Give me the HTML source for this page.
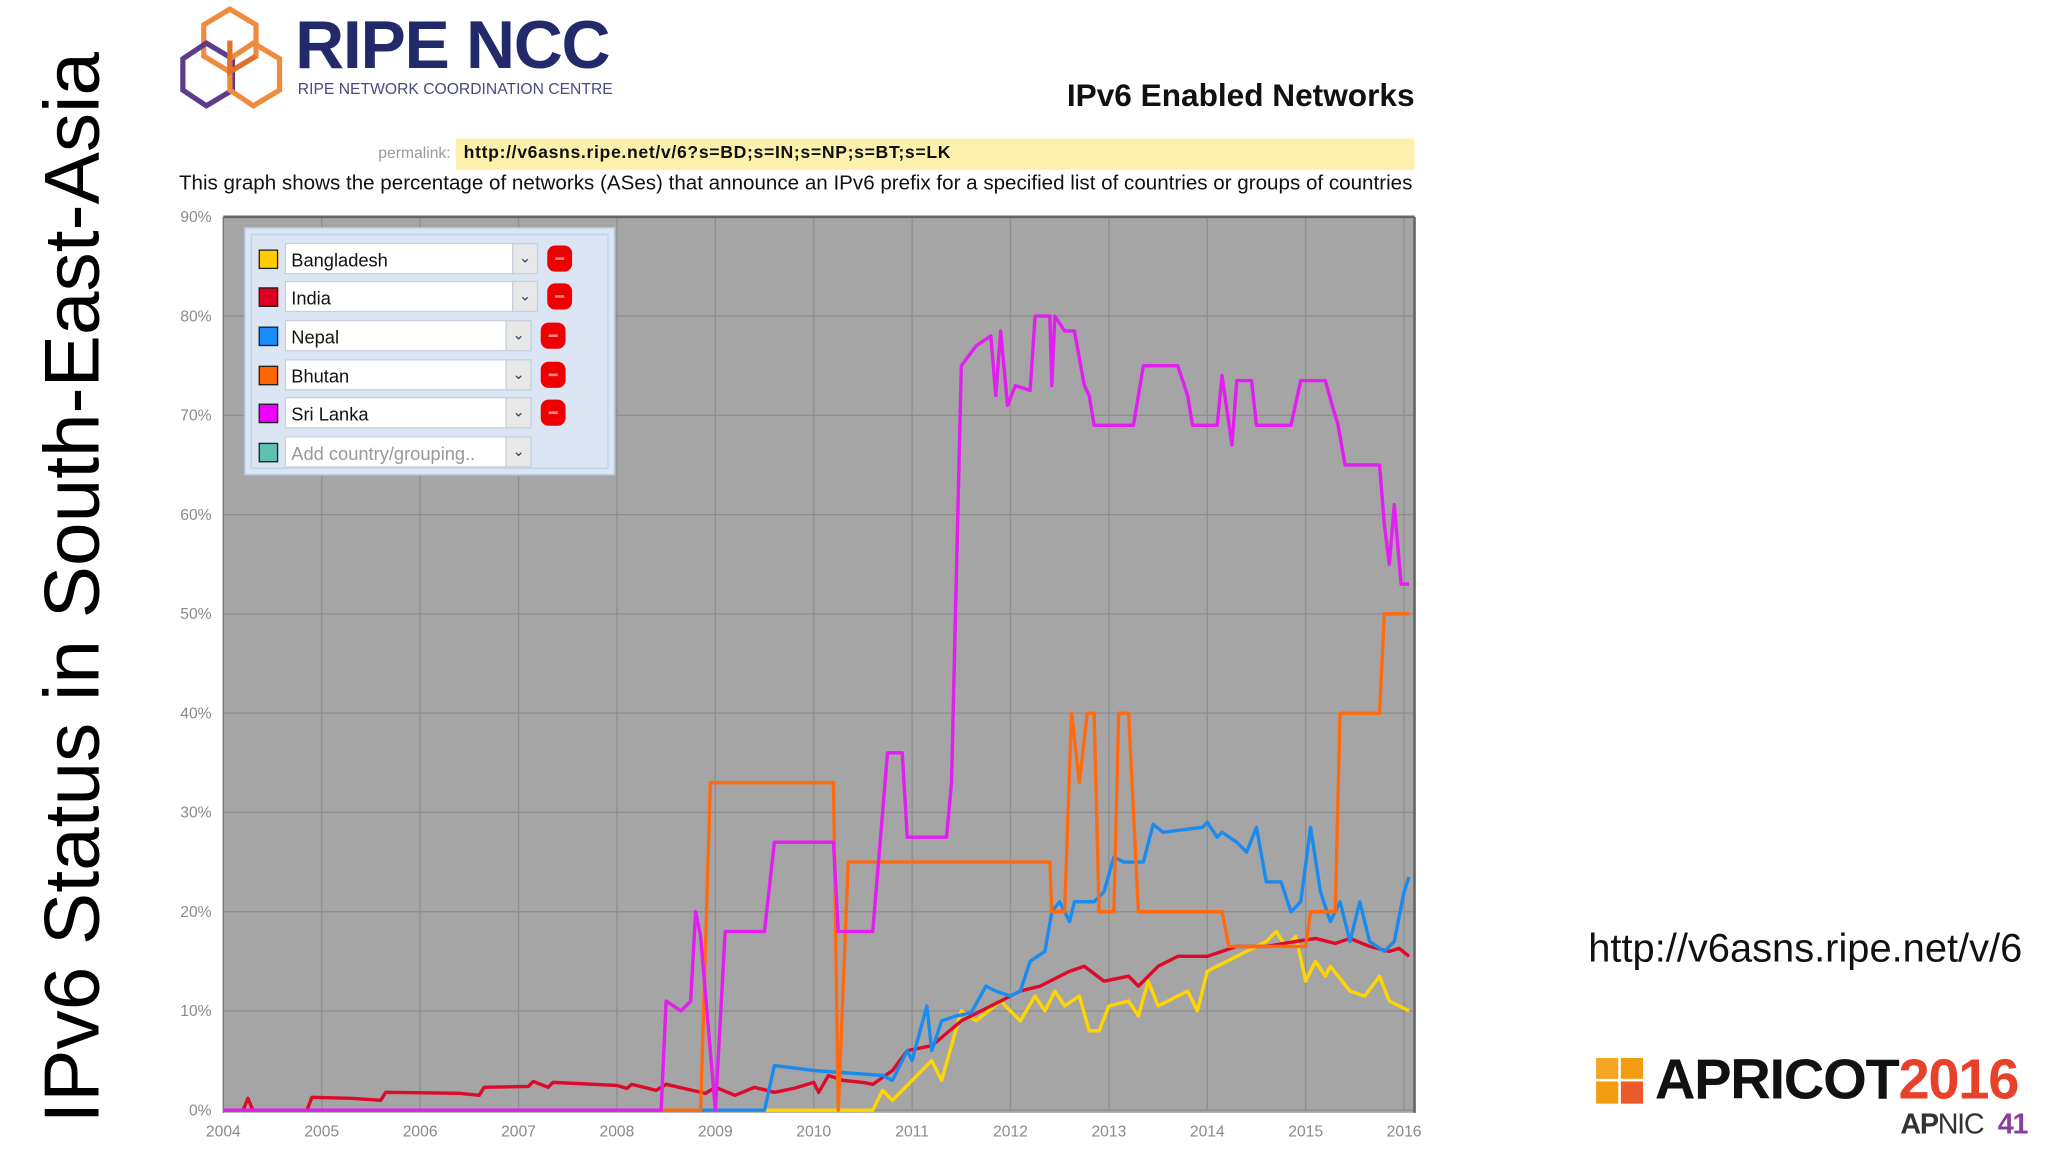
<!DOCTYPE html>
<html><head><meta charset="utf-8">
<style>
html,body{margin:0;padding:0;background:#fff;}
body{width:2048px;height:1152px;overflow:hidden;position:relative;font-family:"Liberation Sans",sans-serif;}
#stage{position:absolute;left:0;top:0;width:1568px;height:882px;transform:scale(1.30612);transform-origin:0 0;}
.abs{position:absolute;white-space:nowrap;}
.row{position:absolute;left:8px;height:26px;}
.sw{position:absolute;left:2px;top:5px;width:13px;height:13px;border:1px solid #222;}
.sel{position:absolute;left:22px;top:0;height:24px;background:#fff;border:1px solid #c8d0dc;font-size:14px;line-height:24px;padding-left:4px;box-sizing:border-box;color:#111;}
.dd{position:absolute;top:0;width:20px;height:24px;background:#e8e8e8;border:1px solid #c8d0dc;box-sizing:border-box;color:#345;font-size:11px;text-align:center;line-height:22px;}
.rm{position:absolute;top:2px;width:19px;height:20px;background:#e00;border-radius:6px;}
.rm:after{content:"";position:absolute;left:6px;top:9px;width:7px;height:2px;background:#f88;}
</style></head>
<body>
<div id="stage">
  <div class="abs" style="left:55px;top:450px;transform:translate(-50%,-50%) rotate(-90deg);font-size:60px;color:#000;">IPv6 Status in South-East-Asia</div>

  <svg class="abs" style="left:136px;top:3px" width="82" height="84" viewBox="0 0 82 84">
    <g fill="none" stroke-width="4">
      <polygon points="40,4 60,16 60,40 40,52 20,40 20,16" stroke="#f08a3c"/>
      <polygon points="22,30 42,42 42,66 22,78 4,66 4,42" stroke="#5b3d8a"/>
      <polygon points="58,30 78,42 78,66 58,78 40,66 40,42" stroke="#f08a3c"/>
      <polyline points="40,28 40,52 60,40" stroke="#e0702a"/>
    </g>
  </svg>
  <div class="abs" style="left:226px;top:5px;font-size:52px;font-weight:bold;color:#232a6a;letter-spacing:-1px;">RIPE NCC</div>
  <div class="abs" style="left:228px;top:61px;font-size:12px;color:#4a4a80;">RIPE NETWORK COORDINATION CENTRE</div>
  <div class="abs" style="right:485px;top:60px;font-size:24.2px;font-weight:bold;color:#111;">IPv6 Enabled Networks</div>

  <div class="abs" style="right:1223px;top:110px;font-size:12px;color:#999;">permalink:</div>
  <div class="abs" style="left:349px;top:106px;width:734px;height:24px;background:#fbf1ad;font-size:13.5px;font-weight:bold;line-height:22px;padding-left:6px;box-sizing:border-box;color:#111;letter-spacing:0.5px;">http://v6asns.ripe.net/v/6?s=BD;s=IN;s=NP;s=BT;s=LK</div>
  <div class="abs" style="left:137px;top:132px;font-size:15.4px;color:#111;transform:scaleX(1.024);transform-origin:0 0;">This graph shows the percentage of networks (ASes) that announce an IPv6 prefix for a specified list of countries or groups of countries</div>

  <svg id="chart" class="abs" style="left:0;top:0" width="1568" height="882"></svg>

  <div class="abs" style="left:187px;top:174px;width:284px;height:190px;background:#dbe5f3;border:1px solid #b6c6de;box-sizing:border-box;">
    <div style="position:absolute;left:4px;top:4px;right:4px;bottom:4px;border:1px solid #c4d2e8;"></div>
    <div class="row" style="top:11px;width:270px;"><div class="sw" style="background:#ffcc00"></div><div class="sel" style="width:175px">Bangladesh</div><div class="dd" style="left:196px">&#8964;</div><div class="rm" style="left:223px"></div></div>
    <div class="row" style="top:40px;width:270px;"><div class="sw" style="background:#dd0022"></div><div class="sel" style="width:175px">India</div><div class="dd" style="left:196px">&#8964;</div><div class="rm" style="left:223px"></div></div>
    <div class="row" style="top:70px;width:270px;"><div class="sw" style="background:#1a8cff"></div><div class="sel" style="width:170px">Nepal</div><div class="dd" style="left:191px">&#8964;</div><div class="rm" style="left:218px"></div></div>
    <div class="row" style="top:100px;width:270px;"><div class="sw" style="background:#ff6600"></div><div class="sel" style="width:170px">Bhutan</div><div class="dd" style="left:191px">&#8964;</div><div class="rm" style="left:218px"></div></div>
    <div class="row" style="top:129px;width:270px;"><div class="sw" style="background:#ee00ff"></div><div class="sel" style="width:170px">Sri Lanka</div><div class="dd" style="left:191px">&#8964;</div><div class="rm" style="left:218px"></div></div>
    <div class="row" style="top:159px;width:270px;"><div class="sw" style="background:#5fbfb0"></div><div class="sel" style="width:170px;color:#999">Add country/grouping..</div><div class="dd" style="left:191px">&#8964;</div></div>
  </div>

  <div class="abs" style="left:1216px;top:709px;font-size:30.5px;color:#111;">http://v6asns.ripe.net/v/6</div>

  <div class="abs" style="left:1222px;top:810px;width:38px;height:36px;">
    <div style="position:absolute;left:0;top:0;width:17px;height:16px;background:#f5a623"></div>
    <div style="position:absolute;left:19px;top:0;width:17px;height:16px;background:#f39c12"></div>
    <div style="position:absolute;left:0;top:18px;width:17px;height:17px;background:#f39c12"></div>
    <div style="position:absolute;left:19px;top:18px;width:17px;height:17px;background:#ea5a2a"></div>
  </div>
  <div class="abs" style="left:1267px;top:803px;font-size:43px;font-weight:bold;color:#111;letter-spacing:-1px;">APRICOT<span style="color:#e8412a">2016</span></div>
  <div class="abs" style="left:1455px;top:848px;font-size:22px;color:#333;letter-spacing:-1px;"><b>AP</b>NIC <b style="color:#8a3fa0;margin-left:6px">41</b></div>
</div>

<script>
const yTicks = [0,10,20,30,40,50,60,70,80,90];
const xTicks = [2004,2005,2006,2007,2008,2009,2010,2011,2012,2013,2014,2015,2016];
const seriesNames = ["Bangladesh","India","Nepal","Bhutan","Sri Lanka"];
const seriesColors = ["#ffd500","#dd0a2a","#1a8cf0","#ff6a10","#e21ef0"];

const bdYears = [2004,2010.6,2010.7,2010.8,2011.0,2011.2,2011.3,2011.5,2011.65,2011.9,2012.1,2012.25,2012.35,2012.45,2012.55,2012.7,2012.8,2012.9,2013.0,2013.2,2013.3,2013.4,2013.5,2013.7,2013.8,2013.9,2014.0,2014.2,2014.4,2014.6,2014.7,2014.8,2014.9,2015.0,2015.1,2015.2,2015.25,2015.45,2015.6,2015.75,2015.85,2016.05];
const bdValues = [0,0,2,1,3,5,3,10,9,11,9,11.5,10,12,10.5,11.5,8,8,10.5,11,9.5,13,10.5,11.5,12,10,14,15,16,17,18,16.5,17.5,13,15,13.5,14.5,12,11.5,13.5,11,10];

const inYears = [2004,2004.2,2004.25,2004.3,2004.85,2004.9,2005.3,2005.6,2005.65,2006.4,2006.6,2006.65,2007.1,2007.15,2007.3,2007.35,2008.0,2008.1,2008.15,2008.4,2008.5,2008.9,2009.0,2009.2,2009.4,2009.6,2009.8,2010.0,2010.05,2010.15,2010.3,2010.5,2010.6,2010.8,2010.95,2011.2,2011.5,2011.8,2012.1,2012.3,2012.6,2012.75,2012.95,2013.2,2013.3,2013.5,2013.7,2014.0,2014.3,2014.6,2014.9,2015.1,2015.3,2015.45,2015.65,2015.85,2015.95,2016.05];
const inValues = [0,0,1.2,0,0,1.3,1.2,1,1.8,1.7,1.5,2.3,2.4,2.9,2.3,2.8,2.5,2.2,2.6,2,2.6,1.7,2.3,1.5,2.3,1.8,2.2,2.8,1.8,3.5,3,2.8,2.6,4,6,6.5,9,10.5,12,12.5,14,14.5,13,13.5,12.5,14.5,15.5,15.5,16.5,16.5,17,17.3,16.8,17.3,16.5,16,16.3,15.5];

const npYears = [2004,2009.5,2009.6,2010.0,2010.7,2010.8,2010.95,2011.0,2011.15,2011.2,2011.3,2011.45,2011.6,2011.75,2011.85,2012.0,2012.1,2012.2,2012.35,2012.42,2012.5,2012.6,2012.65,2012.85,2012.95,2013.05,2013.15,2013.35,2013.45,2013.55,2013.95,2014.0,2014.1,2014.15,2014.3,2014.4,2014.5,2014.6,2014.75,2014.85,2014.95,2015.05,2015.15,2015.25,2015.35,2015.45,2015.55,2015.65,2015.8,2015.9,2016.0,2016.05];
const npValues = [0,0,4.5,4,3.5,3,6,5,10.5,6,9,9.5,9.8,12.5,12,11.5,12,15,16,20,21,19,21,21,22,25.5,25,25,28.8,28,28.5,29,27.5,28,27,26,28.5,23,23,20,21,28.5,22,19,21,17,21,17,16,17,22,23.5];

const btYears = [2004,2008.85,2008.95,2010.2,2010.25,2010.35,2012.4,2012.42,2012.55,2012.62,2012.7,2012.78,2012.85,2012.9,2013.05,2013.1,2013.2,2013.3,2014.15,2014.22,2015.0,2015.05,2015.3,2015.35,2015.75,2015.8,2016.05];
const btValues = [0,0,33,33,0,25,25,20,20,40,33,40,40,20,20,40,40,20,20,16.5,16.5,20,20,40,40,50,50];

const lkYears = [2004,2008.45,2008.5,2008.65,2008.75,2008.8,2008.85,2009.0,2009.1,2009.5,2009.6,2010.2,2010.25,2010.6,2010.75,2010.9,2010.95,2011.35,2011.4,2011.5,2011.65,2011.8,2011.85,2011.9,2011.97,2012.05,2012.2,2012.25,2012.4,2012.42,2012.45,2012.55,2012.65,2012.75,2012.8,2012.85,2013.25,2013.35,2013.7,2013.8,2013.85,2014.1,2014.15,2014.25,2014.3,2014.45,2014.5,2014.85,2014.95,2015.2,2015.27,2015.33,2015.4,2015.75,2015.8,2015.85,2015.9,2015.97,2016.05];
const lkValues = [0,0,11,10,11,20,17.5,0,18,18,27,27,18,18,36,36,27.5,27.5,33,75,77,78,72,78.5,71,73,72.5,80,80,73,80,78.5,78.5,73,72,69,69,75,75,72,69,69,74,67,73.5,73.5,69,69,73.5,73.5,71,69,65,65,59,55,61,53,53];

const allYears = [bdYears,inYears,npYears,btYears,lkYears];
const allValues = [bdValues,inValues,npValues,btValues,lkValues];

const PL=171, PR=1083, PT=166, PB=850;
function xScale(yr){ return PL + (yr-2004)*(1075-171)/12; }
function yScale(v){ return PB - v*(PB-PT)/90; }

const NS="http://www.w3.org/2000/svg";
const svg=document.getElementById('chart');
function mk(tag,attrs){const e=document.createElementNS(NS,tag);for(const k in attrs)e.setAttribute(k,attrs[k]);svg.appendChild(e);return e;}

const bg=mk('rect',{x:PL,y:PT,width:PR-PL,height:PB-PT+2,fill:'#a5a5a5'});



yTicks.forEach(t=>{
  const y=yScale(t);
  const g=mk('line',{x1:PL,x2:PR,y1:y,y2:y,stroke:'#8e8e8e','stroke-width':1});
  
  
  const lb=mk('text',{x:162,y:y+4,'text-anchor':'end','font-size':12,fill:'#8a8a8a','font-family':'Liberation Sans, sans-serif'});
  lb.textContent=t+'%';
  
  
});
xTicks.forEach(t=>{
  const x=xScale(t);
  const g=mk('line',{x1:x,x2:x,y1:PT,y2:PB,stroke:'#8e8e8e','stroke-width':1});
  
  
  const lb=mk('text',{x:x,y:870,'text-anchor':'middle','font-size':12,fill:'#8a8a8a','font-family':'Liberation Sans, sans-serif'});
  lb.textContent=t;
  
  
});
const topB=mk('line',{x1:PL,x2:PR,y1:PT,y2:PT,stroke:'#666','stroke-width':2});


const rB=mk('line',{x1:PR,x2:PR,y1:PT,y2:PB+2,stroke:'#666','stroke-width':2});


const lB=mk('line',{x1:PL,x2:PL,y1:PT,y2:PB+2,stroke:'#777','stroke-width':1});



allYears.forEach((ys,i)=>{
  const pts=ys.map((yr,j)=>xScale(yr).toFixed(1)+','+yScale(allValues[i][j]).toFixed(1)).join(' ');
  const pl=mk('polyline',{points:pts,fill:'none',stroke:seriesColors[i],'stroke-width':2.6,'stroke-linejoin':'round'});
  
  
});
</script>
</body></html>
